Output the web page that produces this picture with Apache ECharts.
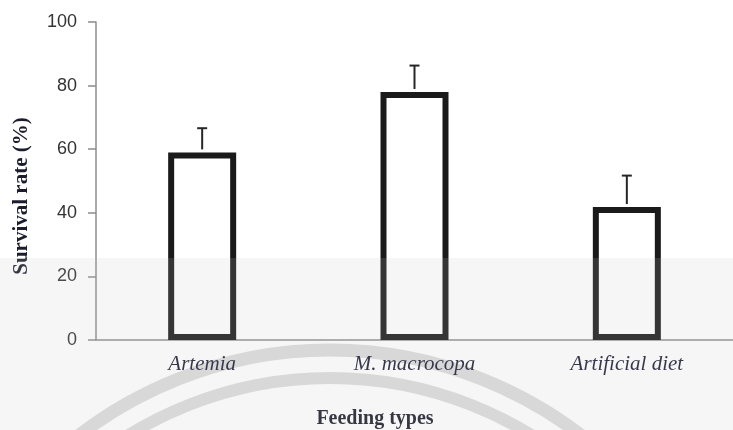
<!DOCTYPE html>
<html>
<head>
<meta charset="utf-8">
<script src="https://cdn.jsdelivr.net/npm/echarts@6/dist/echarts.min.js"></script>
<style>
html,body{margin:0;padding:0;background:#fff;}
#chart{width:733px;height:430px;}
</style>
</head>
<body>
<div id="chart"></div>
<script>
// Data
const categories = ['Artemia', 'M. macrocopa', 'Artificial diet'];
const survival = [59.0, 78.0, 41.8];
const errorUp = [7.6, 8.3, 9.9];
const yTicks = [0, 20, 40, 60, 80, 100];

const chart = echarts.init(document.getElementById('chart'), null, {renderer: 'canvas'});

const option = {
  animation: false,
  backgroundColor: '#ffffff',
  grid: {left: 96, top: 22, width: 647, height: 318},
  xAxis: {
    type: 'category',
    data: categories,
    axisLine: {show: true, lineStyle: {color: '#8c8c8c', width: 1.5}},
    axisTick: {show: false},
    axisLabel: {
      margin: 14,
      fontFamily: '"Liberation Serif", "DejaVu Serif", serif',
      fontStyle: 'italic',
      fontSize: 21,
      color: '#1c1c34'
    }
  },
  yAxis: {
    type: 'value',
    min: yTicks[0],
    max: yTicks[yTicks.length - 1],
    interval: yTicks[1] - yTicks[0],
    axisLine: {show: true, lineStyle: {color: '#8c8c8c', width: 1.5}},
    axisTick: {show: true, inside: false, length: 8, lineStyle: {color: '#8c8c8c', width: 1.5}},
    splitLine: {show: false},
    axisLabel: {
      margin: 19,
      fontFamily: '"Liberation Sans", Arial, sans-serif',
      fontSize: 18,
      color: '#333333'
    }
  },
  series: [
    {
      type: 'bar',
      data: survival,
      barWidth: 68,
      z: 2,
      itemStyle: {color: '#ffffff', borderColor: '#1a1a1a', borderWidth: 6}
    },
    {
      type: 'custom',
      z: 3,
      data: survival.map((v, i) => [i, v, v + errorUp[i]]),
      renderItem: function (params, api) {
        const base = api.coord([api.value(0), api.value(1)]);
        const top = api.coord([api.value(0), api.value(2)]);
        const x = base[0];
        return {
          type: 'group',
          children: [
            {type: 'line', shape: {x1: x, y1: base[1] - 3, x2: x, y2: top[1]},
             style: {stroke: '#262626', lineWidth: 2}},
            {type: 'line', shape: {x1: x - 5, y1: top[1], x2: x + 5, y2: top[1]},
             style: {stroke: '#262626', lineWidth: 2}}
          ]
        };
      }
    }
  ],
  graphic: [
    {type: 'circle', silent: true, z: -10,
     shape: {cx: 330, cy: 762, r: 412},
     style: {fill: 'none', stroke: '#dcdcdc', lineWidth: 13}},
    {type: 'circle', silent: true, z: -10,
     shape: {cx: 330, cy: 762, r: 384},
     style: {fill: 'none', stroke: '#dcdcdc', lineWidth: 12}},
    {type: 'text', silent: true, z: 50,
     x: 22, y: 196, rotation: Math.PI / 2,
     style: {text: 'Survival rate (%)', align: 'center', verticalAlign: 'middle',
             font: 'bold 21px "Liberation Serif", "DejaVu Serif", serif', fill: '#1c1c2c'}},
    {type: 'text', silent: true, z: 50,
     x: 375, y: 419,
     style: {text: 'Feeding types', align: 'center', verticalAlign: 'middle',
             font: 'bold 20px "Liberation Serif", "DejaVu Serif", serif', fill: '#1c1c2c'}},
    {type: 'rect', silent: true, z: 100,
     shape: {x: 0, y: 258, width: 733, height: 172},
     style: {fill: 'rgba(201,201,201,0.16)'}}
  ]
};

chart.setOption(option);
</script>
</body>
</html>
